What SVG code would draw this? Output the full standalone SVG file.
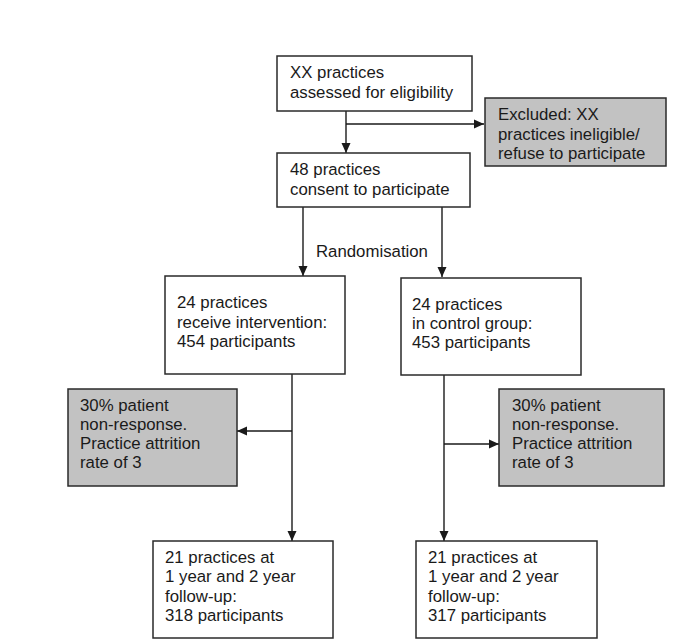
<svg xmlns="http://www.w3.org/2000/svg" width="685" height="643" viewBox="0 0 685 643">
<style>
.box{fill:#ffffff;stroke:#2a2a2a;stroke-width:1.5}
.grey{fill:#c2c2c2;stroke:#2a2a2a;stroke-width:1.5}
text{font-family:"Liberation Sans",Arial,sans-serif;font-size:16.8px;fill:#1a1a1a}
.con{stroke:#1a1a1a;stroke-width:1.4;fill:none}
</style>
<defs>
<marker id="ah" viewBox="0 0 10 10" refX="10" refY="5" markerWidth="10" markerHeight="10" markerUnits="userSpaceOnUse" orient="auto">
<path d="M0,0.5 L10,5 L0,9.5 Z" fill="#1a1a1a"/>
</marker>
</defs>
<rect width="685" height="643" fill="#ffffff"/>
<g id="connectors">
<line class="con" x1="346" y1="111" x2="346" y2="153" marker-end="url(#ah)"/>
<line class="con" x1="346" y1="124" x2="484" y2="124" marker-end="url(#ah)"/>
<line class="con" x1="303" y1="207" x2="303" y2="276" marker-end="url(#ah)"/>
<line class="con" x1="442" y1="207" x2="442" y2="277" marker-end="url(#ah)"/>
<line class="con" x1="292" y1="374" x2="292" y2="541" marker-end="url(#ah)"/>
<line class="con" x1="292" y1="431" x2="237" y2="431" marker-end="url(#ah)"/>
<line class="con" x1="444" y1="375" x2="444" y2="541" marker-end="url(#ah)"/>
<line class="con" x1="444" y1="444" x2="499" y2="444" marker-end="url(#ah)"/>
<text x="316" y="257">Randomisation</text>
</g>
<g id="assessed">
<rect class="box" x="277" y="56" width="195" height="55"/>
<text x="290" y="78">XX practices</text>
<text x="290" y="98">assessed for eligibility</text>
</g>
<g id="excluded">
<rect class="grey" x="485" y="98" width="181" height="68"/>
<text x="498" y="120">Excluded: XX</text>
<text x="498" y="140">practices ineligible/</text>
<text x="498" y="159">refuse to participate</text>
</g>
<g id="consent">
<rect class="box" x="277" y="153" width="193" height="54"/>
<text x="290" y="175">48 practices</text>
<text x="290" y="195">consent to participate</text>
</g>
<g id="intervention">
<rect class="box" x="165" y="276" width="180" height="98"/>
<text x="177" y="308">24 practices</text>
<text x="177" y="328">receive intervention:</text>
<text x="177" y="347">454 participants</text>
</g>
<g id="control">
<rect class="box" x="401" y="278" width="180" height="97"/>
<text x="412" y="310">24 practices</text>
<text x="412" y="329">in control group:</text>
<text x="412" y="348">453 participants</text>
</g>
<g id="attrition-left">
<rect class="grey" x="68" y="389" width="169" height="97"/>
<text x="80" y="411">30% patient</text>
<text x="80" y="430">non-response.</text>
<text x="80" y="449">Practice attrition</text>
<text x="80" y="468">rate of 3</text>
</g>
<g id="attrition-right">
<rect class="grey" x="499" y="389" width="165" height="97"/>
<text x="512" y="411">30% patient</text>
<text x="512" y="430">non-response.</text>
<text x="512" y="449">Practice attrition</text>
<text x="512" y="468">rate of 3</text>
</g>
<g id="followup-left">
<rect class="box" x="153" y="541" width="180" height="97"/>
<text x="165" y="563">21 practices at</text>
<text x="165" y="582">1 year and 2 year</text>
<text x="165" y="602">follow-up:</text>
<text x="165" y="621">318 participants</text>
</g>
<g id="followup-right">
<rect class="box" x="416" y="541" width="181" height="97"/>
<text x="428" y="563">21 practices at</text>
<text x="428" y="582">1 year and 2 year</text>
<text x="428" y="602">follow-up:</text>
<text x="428" y="621">317 participants</text>
</g>
</svg>
